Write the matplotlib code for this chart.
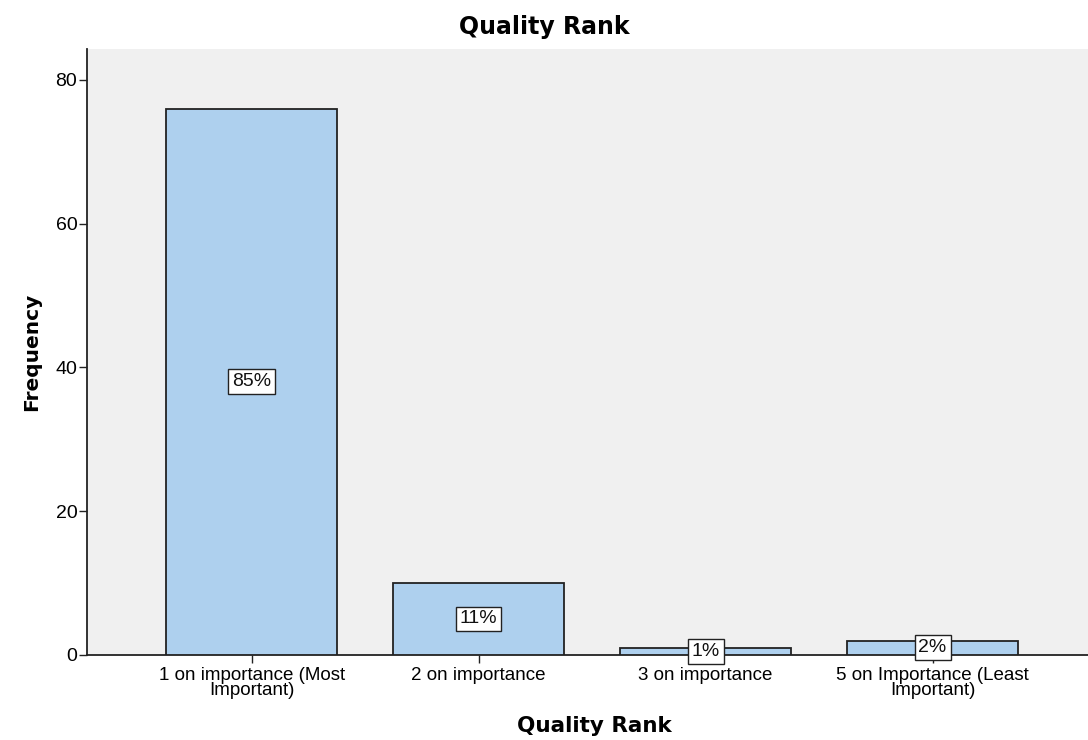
import matplotlib
matplotlib.use("Agg")
import matplotlib.pyplot as plt
import numpy as np

plt.rcParams['font.family'] = ['Liberation Sans', 'DejaVu Sans']

categories = ["1 on importance (Most\nImportant)", "2 on importance",
              "3 on importance", "5 on Importance (Least\nImportant)"]
counts = [76, 10, 1, 2]
pct_labels = ["85%", "11%", "1%", "2%"]

fig = plt.figure(figsize=(10.88, 7.4), dpi=100)
ax = fig.add_axes([0.08, 0.115, 0.92, 0.819])
ax.set_facecolor('#F0F0F0')

x = np.arange(len(categories))
ax.bar(x, counts, width=0.753, color='#AED0EE', edgecolor='#222222', linewidth=1.3, zorder=3)

for xi, c, lab in zip(x, counts, pct_labels):
    ax.text(xi, c / 2, lab, ha='center', va='center', fontsize=14, color='#111111', zorder=5,
            bbox=dict(boxstyle='square,pad=0.2', fc='white', ec='#222222', lw=1.0))

ax.set_xlim(-0.725, 3.685)
ax.set_ylim(0, 84.3)
ax.set_yticks([0, 20, 40, 60, 80])
ax.set_xticks(x)
ax.set_xticklabels(categories, fontsize=13.5, linespacing=0.82)
ax.tick_params(axis='y', labelsize=14, length=6, width=1, color='#222222', pad=1)
ax.tick_params(axis='x', length=6, width=1, color='#222222', pad=3)

for side in ['top', 'right']:
    ax.spines[side].set_visible(False)
for side in ['left', 'bottom']:
    ax.spines[side].set_linewidth(1.3)
    ax.spines[side].set_color('#222222')

ax.set_ylabel("Frequency", family='DejaVu Sans', fontweight='bold', fontsize=14.5, labelpad=10)
ax.set_xlabel("Quality Rank", family='DejaVu Sans', fontweight='bold', fontsize=15.5)
ax.xaxis.set_label_coords(0.5065, -0.1)
fig.suptitle("Quality Rank", family='DejaVu Sans', fontweight='bold', fontsize=17, x=0.5, y=0.98)

fig.savefig("out.png", dpi=100)
